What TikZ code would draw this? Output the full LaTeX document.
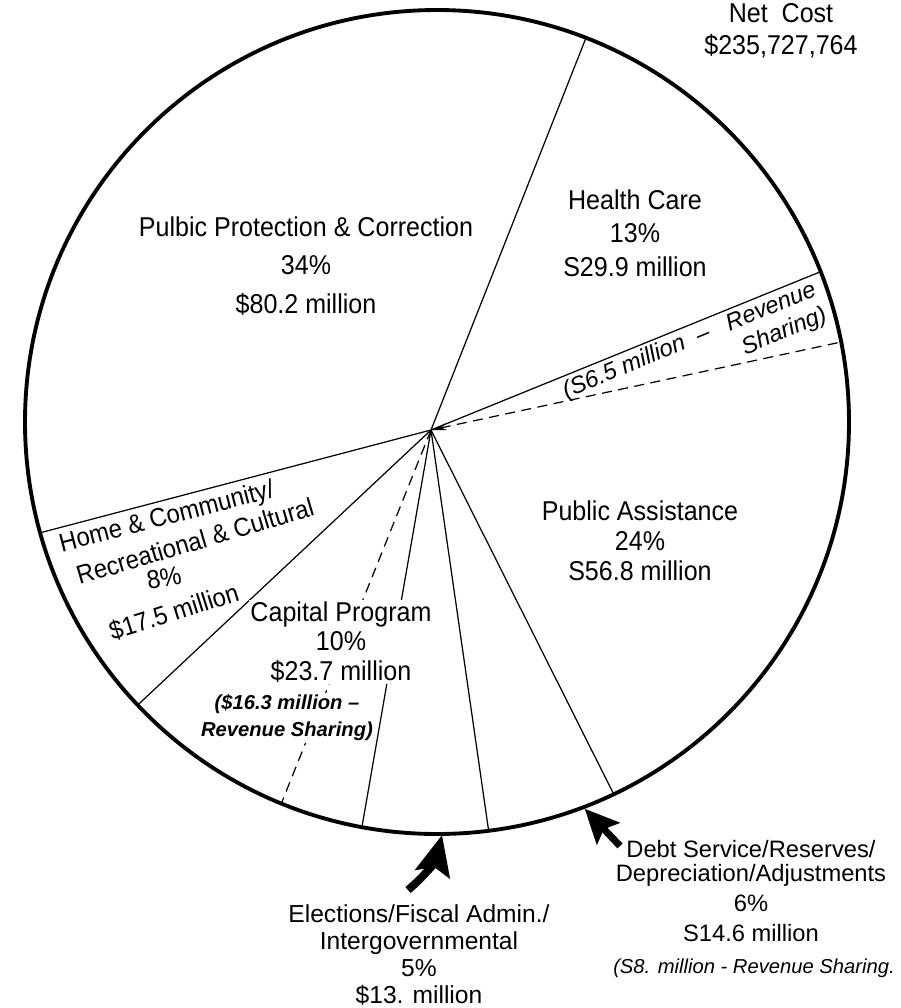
\documentclass[tikz,border=0pt]{standalone}
\usepackage{fontspec}
\setmainfont{Liberation Sans}
\newfontfamily\condsans{Liberation Sans}[FakeStretch=0.92]
\usetikzlibrary{arrows.meta,calc}

\begin{document}
\begin{tikzpicture}[
  x=0.02cm, y=-0.02cm,
  rim/.style={line width=2.2pt},
  spoke/.style={line width=0.7pt},
  rsline/.style={line width=0.7pt, dash pattern=on 0.2cm off 0.13cm},
  slice/.style={font=\condsans\fontsize{15.5}{19}\selectfont, align=center, fill=white, inner sep=1pt},
  homeline/.style={font=\condsans\fontsize{14.8}{17}\selectfont, inner sep=1pt},
  rsnote/.style={font=\bfseries\itshape\fontsize{11.5}{15.3}\selectfont, align=center, inner sep=1pt},
  outer/.style={font=\fontsize{14}{15.5}\selectfont, align=center},
  bigarrow/.style={line width=4.5pt, -{Stealth[length=0.8cm, width=0.7cm, inset=0.14cm]}}
]
\useasboundingbox (0,0) rectangle (901,1008);

% Pie
\coordinate (centre) at (437,422);
\coordinate (hub) at (431,430);
\draw[rim] (centre) circle[radius=412];

% Points on the rim
\coordinate (health) at ($(centre)+(-68.8:412)$);
\coordinate (revtop) at ($(centre)+(-21.4:412)$);
\coordinate (revcut) at ($(centre)+(-11.2:412)$);
\coordinate (debt) at ($(centre)+(64.6:412)$);
\coordinate (elecr) at ($(centre)+(82.8:412)$);
\coordinate (elecl) at ($(centre)+(100.5:412)$);
\coordinate (capcut) at ($(centre)+(112.2:412)$);
\coordinate (caphome) at ($(centre)+(136.6:412)$);
\coordinate (homeup) at ($(centre)+(164.4:412)$);

% Spokes
\draw[spoke] (hub) -- (health);
\draw[spoke] (hub) -- (revtop);
\draw[rsline, {Stealth[length=9pt,width=4pt]}-] (hub) -- (revcut);
\draw[spoke] (hub) -- (debt);
\draw[spoke] (hub) -- (elecr);
\draw[spoke] (hub) -- (elecl);
\draw[rsline] (hub) -- (capcut);
\draw[spoke] (hub) -- (caphome);
\draw[spoke] (hub) -- (homeup);

% Labels
\node[font=\condsans\fontsize{15.5}{18}\selectfont, align=center] (netcost) at (781,31) {Net\ \ Cost\\\$235,727,764};
\node[slice, font=\condsans\fontsize{15.5}{21.8}\selectfont] (protect) at (306,266) {Pulbic Protection \& Correction\\34\%\\\$80.2 million};
\node[slice] (healthlbl) at (635,233) {Health Care\\13\%\\S29.9 million};
\node[font=\itshape\fontsize{13.5}{15.9}\selectfont, align=right, rotate=22.4, inner sep=1pt] (revlbl) at (695,354) {(S6.5 million \ -- \ \ Revenue\\Sharing)};
\node[slice, font=\condsans\fontsize{15.5}{17}\selectfont] (assist) at (640,541) {Public Assistance\\24\%\\S56.8 million};
\node[homeline, rotate=14.5] (home1) at (167,518) {Home \& Community/};
\node[homeline, rotate=16.5] (home2) at (195,541) {Recreational \& Cultural};
\node[homeline, rotate=10] (home3) at (164,578) {8\%};
\node[homeline, rotate=17.5] (home4) at (174,612) {\$17.5 million};
\node[slice, font=\condsans\fontsize{15.5}{16.7}\selectfont] (capital) at (341,642) {Capital Program\\10\%\\\$23.7 million};
\node[rsnote, fill=white] (caprev) at (287,718) {(\$16.3 million --\\Revenue Sharing)};
\node[outer] (elections) at (419,955) {Elections/Fiscal Admin./\\Intergovernmental\\5\%\\\$13. million};
\node[outer, font=\fontsize{13.5}{13.6}\selectfont] (debtlbl) at (751,891) {Debt Service/Reserves/\\Depreciation/Adjustments\\[4pt]6\%\\[3.4pt]S14.6 million};
\node[font=\itshape\fontsize{11.5}{13}\selectfont, inner sep=1pt] (debtrev) at (754,968) {(S8. million - Revenue Sharing.};

% Pointers
\coordinate (electail) at (408,890);
\coordinate (elecpt) at ($(centre)+(89.3:413)$);
\draw[bigarrow] (electail) to[bend right=18] (elecpt);
\coordinate (debttail) at (620,846);
\coordinate (debtpt) at ($(centre)+(69.1:414)$);
\draw[bigarrow, line width=4pt, -{Stealth[length=0.68cm, width=0.62cm, inset=0.12cm]}] (debttail) -- (debtpt);

\end{tikzpicture}
\end{document}
